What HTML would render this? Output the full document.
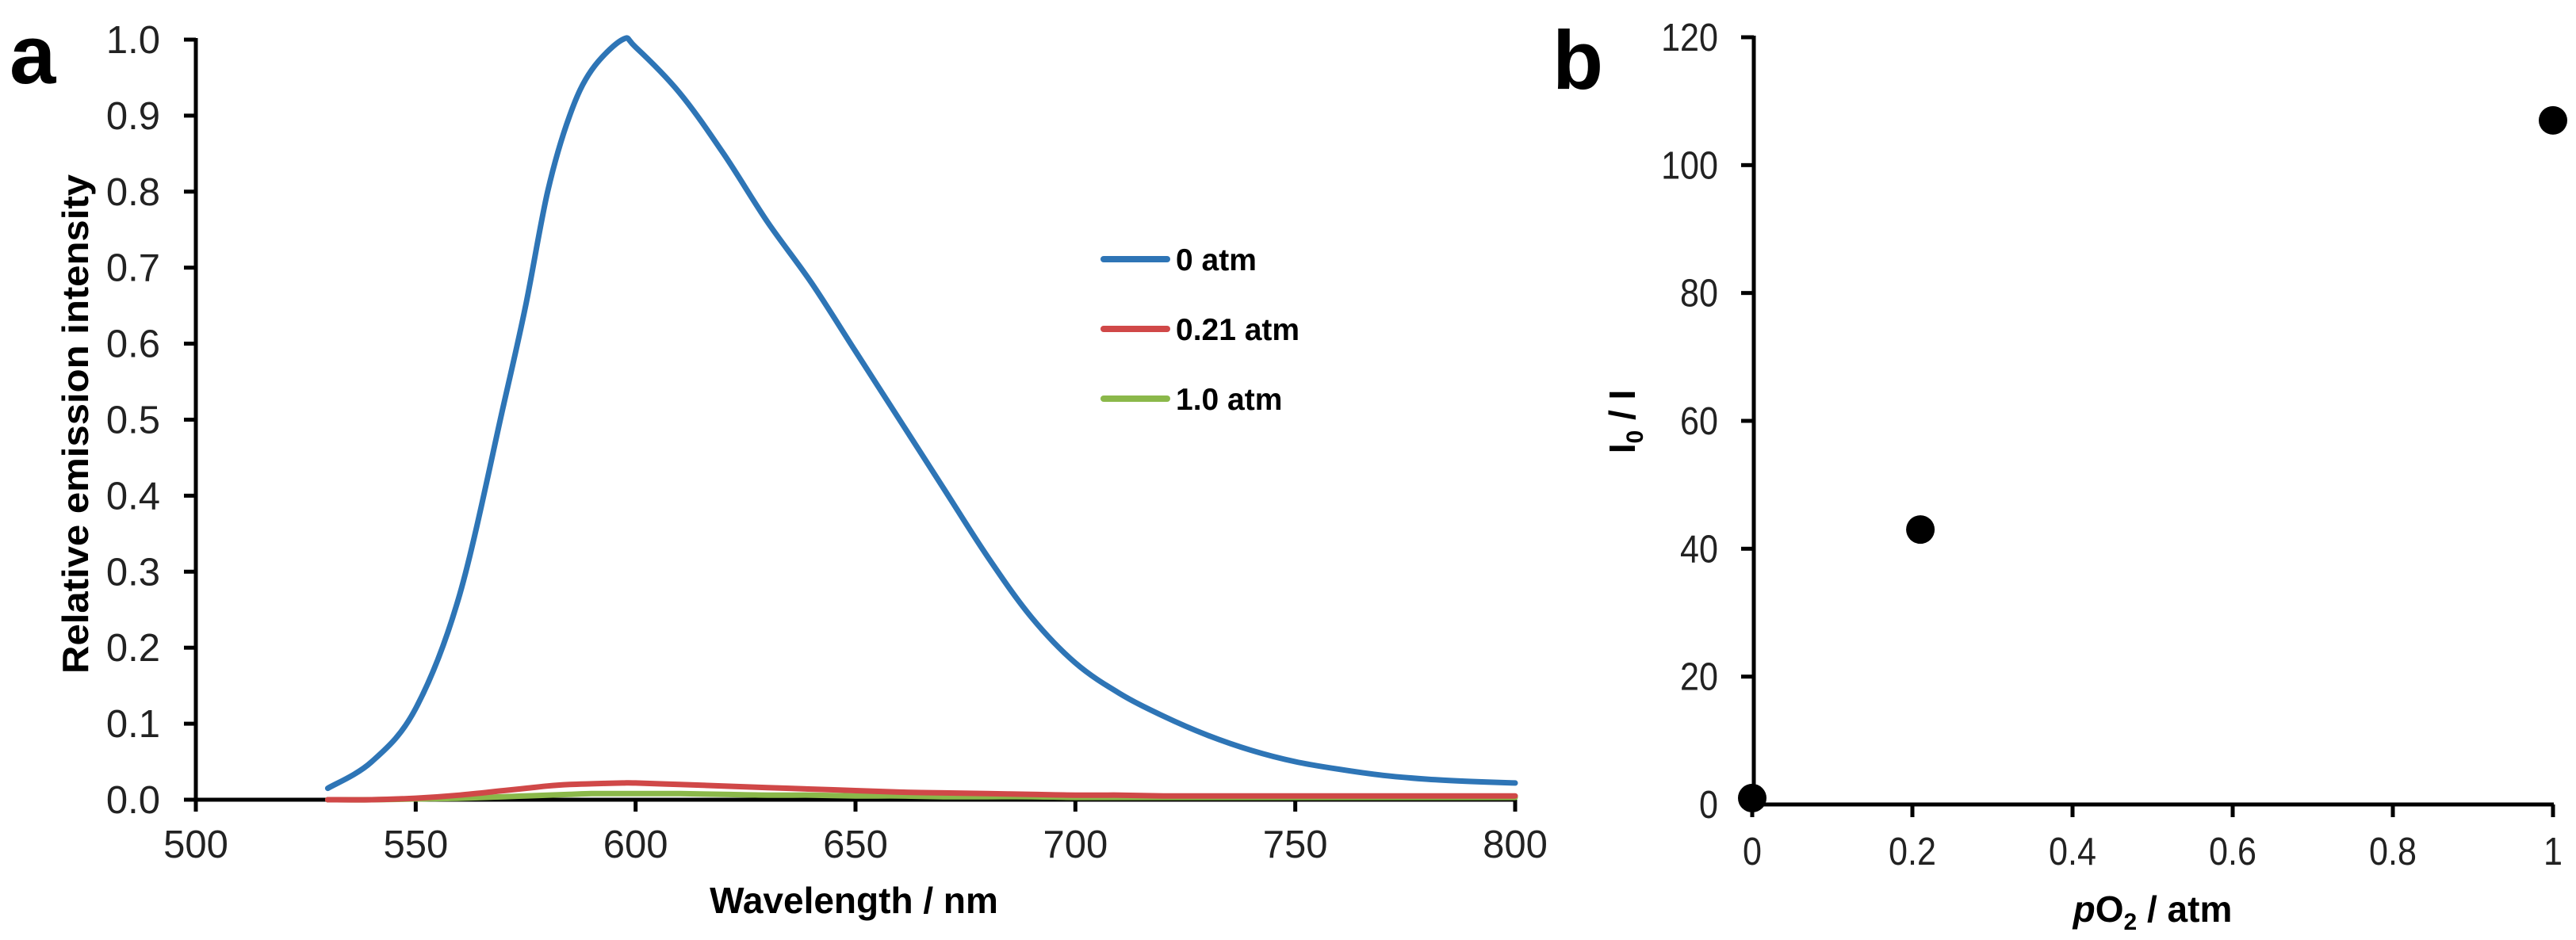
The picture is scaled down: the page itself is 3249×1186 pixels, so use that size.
<!DOCTYPE html>
<html><head><meta charset="utf-8"><style>
html,body{margin:0;padding:0;background:#fff;}
svg{display:block;font-family:"Liberation Sans",Arial,sans-serif;}
</style></head><body>
<svg id="fig" width="3249" height="1186" viewBox="0 0 3249 1186" xmlns="http://www.w3.org/2000/svg">
<g id="pa"></g>
<g id="pb"></g>
</svg>
<script>
// Panel a data
const wl = [530,540,550,560,570,575,580,585,590,597,600,610,620,630,640,650,660,670,680,690,700,710,720,730,740,750,760,770,780,790,800];
const int0 = [0.015,0.05,0.12,0.27,0.52,0.65,0.80,0.90,0.96,1.0,0.99,0.93,0.85,0.76,0.68,0.59,0.50,0.41,0.32,0.24,0.18,0.14,0.11,0.085,0.065,0.05,0.04,0.032,0.027,0.024,0.022];
const int021 = [0.0,0.0,0.002,0.006,0.012,0.015,0.018,0.020,0.021,0.022,0.022,0.020,0.018,0.016,0.014,0.012,0.010,0.009,0.008,0.007,0.006,0.006,0.005,0.005,0.005,0.005,0.005,0.005,0.005,0.005,0.005];
const int10 = [0.0,0.0,0.001,0.002,0.004,0.005,0.006,0.007,0.008,0.008,0.008,0.008,0.007,0.006,0.006,0.005,0.005,0.004,0.004,0.004,0.003,0.003,0.003,0.003,0.003,0.003,0.003,0.003,0.003,0.003,0.003];
const xTicksA = [500,550,600,650,700,750,800];
const yTicksA = [0,0.1,0.2,0.3,0.4,0.5,0.6,0.7,0.8,0.9,1.0];
const legendLabels = ["0 atm","0.21 atm","1.0 atm"];
// Panel b data
const pO2 = [0,0.21,1];
const ratio = [1,43,107];
const xTicksB = [0,0.2,0.4,0.6,0.8,1];
const xTickLabelsB = ["0","0.2","0.4","0.6","0.8","1"];
const yTicksB = [0,20,40,60,80,100,120];

const NS="http://www.w3.org/2000/svg";
function mk(parent,tag,attrs,text){const e=document.createElementNS(NS,tag);for(const k in attrs)e.setAttribute(k,attrs[k]);if(text!==undefined)e.textContent=text;parent.appendChild(e);return e;}
function smooth(pts){
  let d='M'+pts[0][0].toFixed(1)+','+pts[0][1].toFixed(1);
  for(let i=0;i<pts.length-1;i++){
    const p0=pts[i-1]||pts[i],p1=pts[i],p2=pts[i+1],p3=pts[i+2]||p2;
    const c1=[p1[0]+(p2[0]-p0[0])/6,p1[1]+(p2[1]-p0[1])/6];
    const c2=[p2[0]-(p3[0]-p1[0])/6,p2[1]-(p3[1]-p1[1])/6];
    d+=` C${c1[0].toFixed(1)},${c1[1].toFixed(1)} ${c2[0].toFixed(1)},${c2[1].toFixed(1)} ${p2[0].toFixed(1)},${p2[1].toFixed(1)}`;
  }
  return d;
}

const xA=v=>247+(v-500)*(1911-247)/300;
const yA=v=>1009-v*959;
const xB=v=>2210+v*(3220-2210);
const yB=v=>1015-v*(1015-47)/120;

const pa=document.getElementById('pa');
const pb=document.getElementById('pb');
let e;
e=mk(pa,'text',{x:12,y:105,'font-size':105,'font-weight':'bold'},'a');


e=mk(pa,'text',{x:0,y:0,'font-size':46,'font-weight':'bold','text-anchor':'middle',transform:'translate(111,535) rotate(-90)',textLength:630,lengthAdjust:'spacingAndGlyphs'},'Relative emission intensity');


e=mk(pa,'text',{x:1077,y:1152,'font-size':46,'font-weight':'bold','text-anchor':'middle'},'Wavelength / nm');


yTicksA.forEach(v=>{
  e=mk(pa,'line',{x1:232,x2:247,y1:yA(v),y2:yA(v),stroke:'#000','stroke-width':5});
  
  
  e=mk(pa,'text',{x:202,y:yA(v)+17,'font-size':49,'text-anchor':'end',fill:'#222'},v.toFixed(1));
  
  
});
xTicksA.forEach(v=>{
  e=mk(pa,'line',{x1:xA(v),x2:xA(v),y1:1009,y2:1024,stroke:'#000','stroke-width':5});
  
  
  e=mk(pa,'text',{x:xA(v),y:1082,'font-size':49,'text-anchor':'middle',fill:'#222'},String(v));
  
  
});
e=mk(pa,'path',{d:`M247,48 V1009 H1911`,fill:'none',stroke:'#000','stroke-width':5});


const series=[[int10,'#8bb84a','series-1-0-atm'],[int021,'#d04848','series-0-21-atm'],[int0,'#2e75b6','series-0-atm']];
series.forEach(s=>{
  const pts=wl.map((w,i)=>[xA(w),yA(s[0][i])]);
  e=mk(pa,'path',{d:smooth(pts),fill:'none',stroke:s[1],'stroke-width':7,'stroke-linejoin':'round','stroke-linecap':'round'});
  
  
});
const legCols=['#2e75b6','#d04848','#8bb84a'];
legendLabels.forEach((l,i)=>{
  const y=327+i*88;
  e=mk(pa,'line',{x1:1392,x2:1472,y1:y,y2:y,stroke:legCols[i],'stroke-width':8,'stroke-linecap':'round'});
  
  
  e=mk(pa,'text',{x:1483,y:y+14,'font-size':39,'font-weight':'bold'},l);
  
  
});
e=mk(pb,'text',{x:1958,y:112,'font-size':105,'font-weight':'bold'},'b');


const yt=mk(pb,'text',{x:0,y:0,'font-size':46,'font-weight':'bold','text-anchor':'middle',transform:'translate(2062,532) rotate(-90)'});


yt.innerHTML='I<tspan font-size="30" dy="10">0</tspan><tspan dy="-10"> / I</tspan>';
const xt=mk(pb,'text',{x:2715,y:1163,'font-size':46,'font-weight':'bold','text-anchor':'middle'});


xt.innerHTML='<tspan font-style="italic">p</tspan>O<tspan font-size="30" dy="10">2</tspan><tspan dy="-10"> / atm</tspan>';
yTicksB.forEach(v=>{
  e=mk(pb,'line',{x1:2196,x2:2212,y1:yB(v),y2:yB(v),stroke:'#000','stroke-width':5});
  
  
  e=mk(pb,'text',{x:2167,y:yB(v)+17,'font-size':49,'text-anchor':'end',fill:'#222',transform:`translate(${2167*0.12},0) scale(0.88,1)`},String(v));
  
  
});
xTicksB.forEach((v,i)=>{
  e=mk(pb,'line',{x1:xB(v),x2:xB(v),y1:1015,y2:1031,stroke:'#000','stroke-width':5});
  
  
  e=mk(pb,'text',{x:xB(v),y:1091,'font-size':49,'text-anchor':'middle',fill:'#222',transform:`translate(${xB(v)*0.12},0) scale(0.88,1)`},xTickLabelsB[i]);
  
  
});
e=mk(pb,'path',{d:`M2212,45 V1015 H3221`,fill:'none',stroke:'#000','stroke-width':5});


pO2.forEach((p,i)=>{
  e=mk(pb,'circle',{cx:xB(p),cy:yB(ratio[i]),r:18,fill:'#000'});
  
  
});
</script>
</body></html>
